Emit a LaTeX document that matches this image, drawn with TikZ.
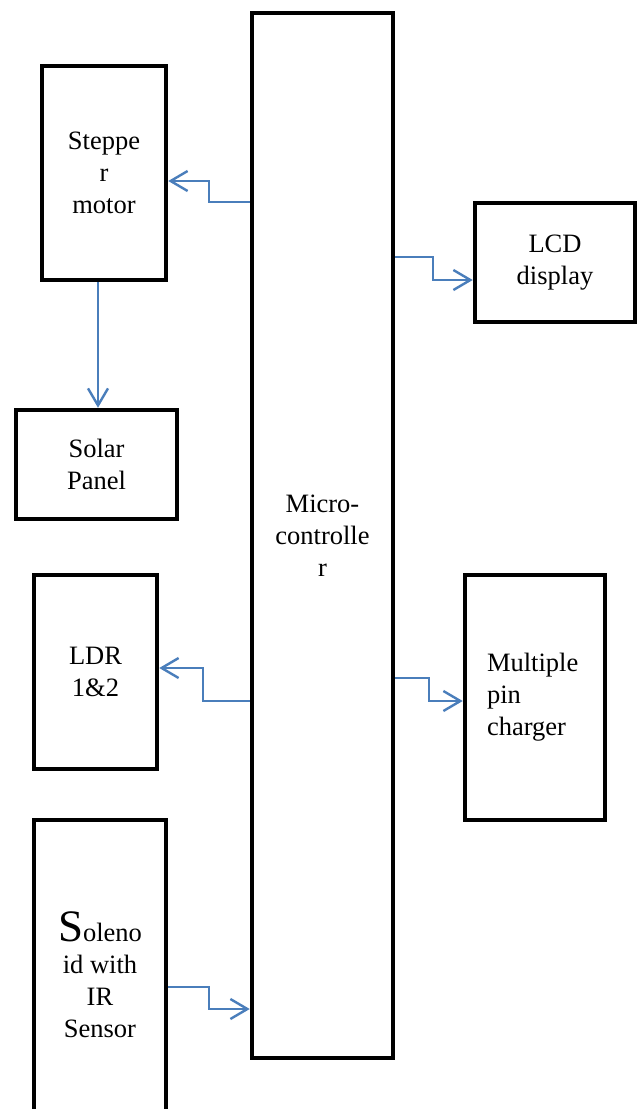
\documentclass[tikz,border=0pt]{standalone}
\usepackage{fontspec}
\setmainfont{Liberation Serif}
\usetikzlibrary{arrows.meta}
\definecolor{conncol}{HTML}{4A7EBB}
\begin{document}
\begin{tikzpicture}[x=1pt,y=-1pt,
  box/.style={draw=black,line width=4.5pt,rectangle,inner sep=0pt,align=center,
    font=\fontsize{26.5}{32}\selectfont},
  link/.style={draw=conncol,line width=2.4pt,-{Straight Barb[length=17pt,width=20pt]}}]
\useasboundingbox (0,0) rectangle (638,1109);
\clip (0,0) rectangle (638,1109);
\fill[white] (0,0) rectangle (638,1109);
\node[box,minimum width=141pt,minimum height=1045pt] (micro) at (322.5,535.5) {Micro-\\controlle\\r};
\node[box,minimum width=124pt,minimum height=214pt] (stepper) at (104,173) {Steppe\\r\\motor};
\node[box,minimum width=161pt,minimum height=109pt] (solar) at (96.5,464.5) {Solar\\Panel};
\node[box,minimum width=123pt,minimum height=194pt] (ldr) at (95.5,672) {LDR\\1\&2};
\node[box,minimum width=160pt,minimum height=119pt] (lcd) at (555,262.5) {LCD\\display};
\node[box,minimum width=140pt,minimum height=245pt,align=left,text width=96pt] (charger) at (535,697.5) {Multiple\\pin\\charger};
\node[box,minimum width=132pt,minimum height=310pt] (solenoid) at (100,975) {{\fontsize{45}{32}\selectfont S}oleno\\id with\\IR\\Sensor};
\draw[link] (micro.west |- 0,202) -- (209,202) -- (209,181) -- (stepper.east |- 0,181);
\draw[link] (stepper.south -| 98,0) -- (solar.north -| 98,0);
\draw[link] (micro.east |- 0,257) -- (433,257) -- (433,280) -- (lcd.west |- 0,280);
\draw[link] (micro.west |- 0,701) -- (203,701) -- (203,668) -- (ldr.east |- 0,668);
\draw[link] (micro.east |- 0,678) -- (429,678) -- (429,701) -- (charger.west |- 0,701);
\draw[link] (solenoid.east |- 0,987) -- (209,987) -- (209,1009) -- (micro.west |- 0,1009);
\end{tikzpicture}
\end{document}
